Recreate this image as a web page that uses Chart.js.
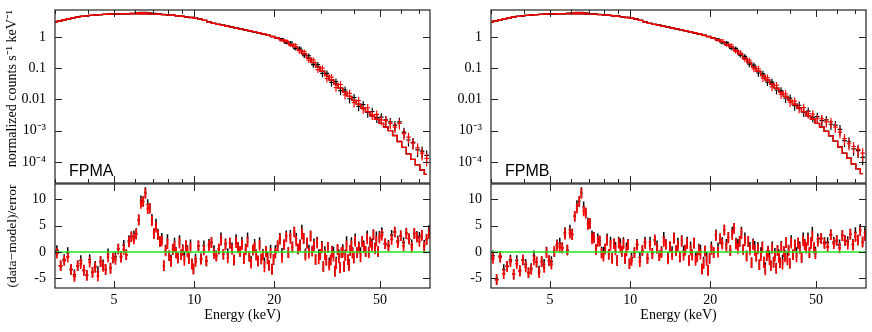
<!DOCTYPE html>
<html>
<head>
<meta charset="utf-8">
<script src="https://cdn.jsdelivr.net/npm/chart.js@4.4.1/dist/chart.umd.min.js"></script>
<style>
  body { margin: 0; background: #fff; }
  #wrap { position: relative; width: 872px; height: 332px; overflow: hidden; }
  #wrap canvas { position: absolute; }
  .tag { position: absolute; font: 16px "Liberation Sans", Arial, sans-serif; line-height: 16px; color: #000; }
</style>
</head>
<body>
<div id="wrap">
  <canvas id="specA" width="436" height="184" style="left:0;top:0"></canvas>
  <canvas id="resA" width="436" height="149" style="left:0;top:183px"></canvas>
  <canvas id="specB" width="436" height="184" style="left:436px;top:0"></canvas>
  <canvas id="resB" width="436" height="149" style="left:436px;top:183px"></canvas>
  <div class="tag" style="left:69px;top:163px">FPMA</div>
  <div class="tag" style="left:505px;top:163px">FPMB</div>
</div>
<script>
// spectrum bin centres (keV), upper panels
const energy = [
  3.00, 3.12, 3.245, 3.375, 3.51, 3.65, 3.796, 3.948, 4.106, 4.27,
  4.441, 4.618, 4.803, 4.995, 5.195, 5.403, 5.619, 5.844, 6.077, 6.321,
  6.573, 6.836, 7.11, 7.394, 7.69, 7.997, 8.317, 8.65, 8.996, 9.356,
  9.73, 10.12, 10.52, 10.95, 11.38, 11.84, 12.31, 12.8, 13.32, 13.85,
  14.4, 14.98, 15.58, 16.2, 16.85, 17.52, 18.22, 18.95, 19.71, 20.5,
  21.32, 22.17, 23.06, 23.98, 24.94, 25.94, 26.98, 28.05, 29.18, 30.34,
  31.56, 32.82, 34.13, 35.5, 36.92, 38.39, 39.93, 41.53, 43.19, 44.92,
  46.71, 48.58, 50.52, 52.54, 54.64, 56.83, 59.1, 61.47, 63.92, 66.48,
  69.14, 71.9, 74.78
]

// fractional 1-sigma error of the counts in each bin
const relErr = [
  0.01, 0.01, 0.01, 0.01, 0.01, 0.01, 0.01, 0.01, 0.01, 0.01,
  0.01, 0.01, 0.01, 0.01, 0.01, 0.01, 0.01, 0.01, 0.01, 0.01,
  0.01, 0.01, 0.01, 0.01, 0.01, 0.01, 0.01, 0.01, 0.011, 0.011,
  0.012, 0.013, 0.014, 0.015, 0.016, 0.017, 0.018, 0.019, 0.02, 0.022,
  0.024, 0.026, 0.028, 0.03, 0.033, 0.036, 0.039, 0.042, 0.046, 0.05,
  0.065, 0.08, 0.1, 0.12, 0.14, 0.16, 0.18, 0.2, 0.22, 0.24,
  0.25, 0.26, 0.27, 0.28, 0.29, 0.3, 0.3, 0.31, 0.31, 0.32,
  0.32, 0.33, 0.33, 0.34, 0.34, 0.35, 0.36, 0.37, 0.38, 0.39,
  0.4, 0.42, 0.44
]

const modelA = [
  2.95, 3.25, 3.55, 3.85, 4.1, 4.35, 4.55, 4.75, 4.92, 5.06,
  5.18, 5.28, 5.36, 5.43, 5.48, 5.52, 5.54, 5.55, 5.55, 5.53,
  5.5, 5.45, 5.38, 5.3, 5.2, 5.08, 4.94, 4.78, 4.6, 4.41,
  4.2, 3.98, 3.72, 3.4, 3.05, 2.72, 2.52, 2.36, 2.21, 2.07,
  1.94, 1.81, 1.69, 1.58, 1.47, 1.36, 1.25, 1.14, 1.04, 0.93,
  0.82, 0.7, 0.59, 0.48, 0.375, 0.285, 0.21, 0.152, 0.11, 0.08,
  0.058, 0.042, 0.031, 0.023, 0.017, 0.0125, 0.0093, 0.007, 0.0053, 0.004,
  0.003, 0.0023, 0.0017, 0.0013, 0.001, 0.0007, 0.00045, 0.00029, 0.00018, 0.00012,
  0.00008, 0.000055, 0.00004
]
const countsRedA = [
  2.94, 3.26, 3.54, 3.86, 4.09, 4.36, 4.54, 4.76, 4.91, 5.07,
  5.16, 5.29, 5.35, 5.42, 5.48, 5.52, 5.55, 5.71, 5.88, 6.07,
  6.08, 5.86, 5.63, 5.45, 5.22, 5.07, 4.95, 4.77, 4.61, 4.4,
  4.21, 3.95, 3.73, 3.39, 3.06, 2.71, 2.53, 2.36, 2.22, 2.06,
  1.95, 1.81, 1.7, 1.57, 1.47, 1.35, 1.25, 1.12, 1.01, 0.96,
  0.75, 0.78, 0.53, 0.57, 0.33, 0.34, 0.18, 0.185, 0.09, 0.1,
  0.046, 0.052, 0.024, 0.03, 0.014, 0.0156, 0.0079, 0.0091, 0.005, 0.0054,
  0.0032, 0.0033, 0.0022, 0.0021, 0.0017, 0.0013, 0.0017, 0.0008, 0.00062, 0.0004,
  0.00028, 0.00019, 0.00013
]
const countsBlackA = [
  2.95, 3.25, 3.55, 3.85, 4.1, 4.35, 4.55, 4.75, 4.92, 5.06,
  5.18, 5.28, 5.36, 5.43, 5.49, 5.53, 5.56, 5.74, 5.93, 6.12,
  6.14, 5.9, 5.67, 5.48, 5.25, 5.1, 4.94, 4.8, 4.6, 4.43,
  4.2, 3.97, 3.75, 3.41, 3.05, 2.74, 2.52, 2.39, 2.21, 2.1,
  1.95, 1.85, 1.69, 1.6, 1.46, 1.37, 1.24, 1.13, 1.02, 0.9,
  0.88, 0.63, 0.68, 0.42, 0.44, 0.25, 0.25, 0.13, 0.13, 0.068,
  0.068, 0.035, 0.037, 0.019, 0.02, 0.0105, 0.0115, 0.006, 0.0068, 0.0038,
  0.0041, 0.0026, 0.0027, 0.0022, 0.0019, 0.0015, 0.0019, 0.0009, 0.0005, 0.00042,
  0.00024, 0.00022, 0.00016
]

const modelB = [
  2.95, 3.25, 3.55, 3.85, 4.1, 4.35, 4.55, 4.75, 4.92, 5.06,
  5.18, 5.28, 5.36, 5.43, 5.48, 5.52, 5.54, 5.55, 5.55, 5.53,
  5.5, 5.45, 5.38, 5.3, 5.2, 5.08, 4.94, 4.78, 4.6, 4.41,
  4.2, 3.98, 3.72, 3.4, 3.05, 2.72, 2.52, 2.36, 2.21, 2.07,
  1.94, 1.81, 1.69, 1.58, 1.47, 1.36, 1.25, 1.14, 1.04, 0.93,
  0.82, 0.7, 0.59, 0.48, 0.375, 0.285, 0.21, 0.152, 0.11, 0.08,
  0.058, 0.042, 0.031, 0.023, 0.017, 0.0125, 0.0093, 0.007, 0.0053, 0.004,
  0.003, 0.0023, 0.0017, 0.0013, 0.00095, 0.00068, 0.00046, 0.0003, 0.00019, 0.00013,
  0.000085, 0.00006, 0.000042
]
const countsRedB = [
  2.94, 3.24, 3.56, 3.84, 4.1, 4.34, 4.56, 4.74, 4.93, 5.05,
  5.17, 5.27, 5.36, 5.42, 5.48, 5.55, 5.6, 5.74, 5.87, 6.06,
  6.08, 5.83, 5.6, 5.42, 5.24, 5.06, 4.97, 4.76, 4.64, 4.37,
  4.23, 3.92, 3.75, 3.39, 3.1, 2.72, 2.55, 2.35, 2.24, 2.07,
  1.96, 1.8, 1.71, 1.58, 1.48, 1.34, 1.24, 1.11, 1.0, 0.95,
  0.76, 0.8, 0.54, 0.56, 0.34, 0.33, 0.19, 0.18, 0.095, 0.097,
  0.048, 0.05, 0.025, 0.028, 0.0145, 0.015, 0.0082, 0.0088, 0.0052, 0.0055,
  0.0035, 0.0034, 0.0024, 0.0024, 0.0019, 0.0019, 0.0013, 0.0009, 0.00055, 0.00038,
  0.00031, 0.00025, 0.00019
]
const countsBlackB = [
  2.95, 3.25, 3.55, 3.85, 4.09, 4.35, 4.57, 4.73, 4.92, 5.07,
  5.16, 5.28, 5.35, 5.43, 5.47, 5.56, 5.62, 5.77, 5.91, 6.1,
  6.13, 5.87, 5.64, 5.45, 5.27, 5.1, 4.96, 4.8, 4.61, 4.43,
  4.2, 3.96, 3.78, 3.42, 3.07, 2.75, 2.53, 2.39, 2.22, 2.1,
  1.95, 1.83, 1.7, 1.6, 1.47, 1.36, 1.23, 1.12, 1.02, 0.91,
  0.87, 0.64, 0.67, 0.43, 0.43, 0.26, 0.24, 0.135, 0.125, 0.07,
  0.066, 0.036, 0.036, 0.02, 0.019, 0.011, 0.011, 0.0063, 0.0065, 0.004,
  0.0042, 0.0027, 0.0028, 0.0021, 0.0022, 0.0016, 0.0015, 0.0011, 0.00048, 0.00044,
  0.00026, 0.00023, 0.00014
]

// finer bins for the residual panels (keV)
const resEnergy = [
  3.05, 3.15, 3.25, 3.35, 3.45, 3.55, 3.65, 3.75, 3.85, 3.95,
  4.05, 4.15, 4.25, 4.35, 4.45, 4.55, 4.65, 4.75, 4.85, 4.95,
  5.06, 5.19, 5.31, 5.44, 5.56, 5.69, 5.81, 5.94, 6.06, 6.19,
  6.31, 6.44, 6.56, 6.69, 6.81, 6.94, 7.06, 7.19, 7.31, 7.44,
  7.56, 7.69, 7.81, 7.94, 8.06, 8.19, 8.31, 8.44, 8.56, 8.69,
  8.81, 8.94, 9.06, 9.19, 9.31, 9.44, 9.56, 9.69, 9.81, 9.94,
  10.12, 10.38, 10.62, 10.88, 11.12, 11.38, 11.62, 11.88, 12.12, 12.38,
  12.62, 12.88, 13.12, 13.38, 13.62, 13.88, 14.12, 14.38, 14.62, 14.88,
  15.12, 15.38, 15.62, 15.88, 16.12, 16.38, 16.62, 16.88, 17.12, 17.38,
  17.62, 17.88, 18.12, 18.38, 18.62, 18.88, 19.12, 19.38, 19.62, 19.88,
  20.2, 20.6, 21.0, 21.4, 21.8, 22.2, 22.6, 23.0, 23.4, 23.8,
  24.2, 24.6, 25.0, 25.4, 25.8, 26.2, 26.6, 27.0, 27.4, 27.8,
  28.2, 28.6, 29.0, 29.4, 29.8, 30.2, 30.6, 31.0, 31.4, 31.8,
  32.2, 32.6, 33.0, 33.4, 33.8, 34.2, 34.6, 35.0, 35.4, 35.8,
  36.2, 36.6, 37.0, 37.4, 37.8, 38.2, 38.6, 39.0, 39.4, 39.8,
  40.3, 40.9, 41.6, 42.2, 42.8, 43.4, 44.1, 44.7, 45.3, 45.9,
  46.6, 47.2, 47.8, 48.4, 49.1, 49.7,
  50.75, 52.25, 53.75, 55.25, 56.75, 58.25, 59.75, 61.25, 62.75, 64.25,
  65.75, 67.25, 68.75, 70.25, 71.75, 73.25, 74.75, 76.25
]

const residRedA = [
  -0.2, -2.6, -1.6, -0.9, -3.3, -4.6, -2.6, -2.2, -3.5, -4.4,
  -1.9, -3.8, -2.9, -4.5, -1.8, -2.7, -3.3, -0.9, -3.1, -1.1,
  -1.4, 0.6, -1.0, 0.5, -0.5, 1.9, 2.9, 2.5, 3.4, 6.1,
  9.2, 9.6, 11.1, 8.2, 8.3, 5.9, 3.5, 4.7, 3.3, 2.0,
  2.1, -2.6, 0.2, 1.6, -0.7, -1.8, 0.5, 1.1, -0.2, -1.1,
  1.7, -0.5, 0.3, -1.6, 1.2, 0.0, -1.2, 0.8, -2.3, -3.2,
  -1.8, 1.2, -1.4, 0.4, -1.7, 1.2, 1.8, -0.3, -0.8, 0.6,
  2.2, -0.4, 1.4, -1.1, 1.7, 0.5, -1.5, 1.8, 0.8, 0.1,
  1.4, -1.2, 0.4, 1.9, -0.8, -2.1, 0.4, 0.9, -0.6, -1.7,
  1.3, -1.3, -0.6, -2.8, 0.1, -1.3, -2.5, -0.2, -3.3, -1.4,
  -0.2, 1.2, 2.4, -1.0, 1.4, 2.8, -0.1, 2.6, 0.9, 3.8,
  2.1, 0.6, 1.2, 3.4, 2.6, -0.6, 1.7, -0.2, 3.0, 0.2,
  1.1, -1.4, 1.7, -1.3, -0.4, 0.8, -2.7, -0.5, -1.6, 0.9,
  -2.5, -1.5, 0.0, -0.8, -3.6, -2.2, 0.5, -1.1, -3.0, -0.1,
  0.0, -2.7, -0.7, 1.2, -1.4, -2.6, 0.3, 1.2, -0.2, -1.1,
  2.0, -0.1, 0.8, -0.9, 2.0, 0.9, 0.1, 2.5, -0.1, 1.9,
  1.1, 3.3, 0.6, 2.1, 0.1, 2.7,
  3.2, 1.6, 1.1, 2.4, 3.8, 1.8, 3.1, 1.2, 3.5, 2.5,
  0.9, 3.5, 2.8, 2.0, 3.2, 1.0, 2.4, 3.5
]
const residBlackA = [
  0.3, -2.6, -1.4, -0.1, -3.3, -4.3, -2.6, -1.6, -3.4, -4.4,
  -1.4, -3.8, -2.7, -3.7, -1.8, -2.4, -3.3, -0.3, -3.0, -1.1,
  -0.9, 0.6, -0.8, 1.3, -0.5, 2.2, 2.9, 3.1, 3.5, 6.1,
  9.7, 9.6, 11.3, 9.0, 8.3, 6.2, 3.5, 5.3, 3.4, 2.0,
  2.6, -2.6, 0.4, 2.4, -0.7, -1.5, 0.5, 1.7, -0.1, -1.1,
  2.2, -0.5, 0.5, -0.8, 1.2, 0.3, -1.2, 1.4, -2.2, -3.2,
  -1.3, 1.2, -1.2, 1.2, -1.7, 1.5, 1.8, 0.3, -0.7, 0.6,
  2.7, -0.4, 1.6, -0.3, 1.7, 0.8, -1.5, 2.4, 0.9, 0.1,
  1.9, -1.2, 0.6, 2.7, -0.8, -1.8, 0.4, 1.5, -0.5, -1.7,
  1.8, -1.3, -0.4, -2.0, 0.1, -1.0, -2.5, 0.4, -3.2, -1.4,
  0.3, 1.2, 2.6, -0.2, 1.4, 3.1, -0.1, 3.2, 1.0, 3.8,
  2.6, 0.6, 1.4, 4.2, 2.6, -0.3, 1.7, 0.4, 3.1, 0.2,
  1.6, -1.4, 1.9, -0.5, -0.4, 1.1, -2.7, 0.1, -1.5, 0.9,
  -2.0, -1.5, 0.2, 0.0, -3.6, -1.9, 0.5, -0.5, -2.9, -0.1,
  0.5, -2.7, -0.5, 2.0, -1.4, -2.3, 0.3, 1.8, -0.1, -1.1,
  2.5, -0.1, 1.0, -0.1, 2.0, 1.2, 0.1, 3.1, 0.0, 1.9,
  1.6, 3.3, 0.8, 2.9, 0.1, 3.0,
  3.7, 1.6, 1.3, 3.2, 3.8, 2.1, 3.1, 1.8, 3.6, 2.5,
  1.4, 3.5, 3.0, 2.8, 3.2, 1.3, 2.4, 4.1
]
const residRedB = [
  -1.2, -5.2, -1.0, -4.1, -2.7, -1.8, -4.2, -2.2, -3.6, -1.5,
  -2.8, -3.9, -3.3, -1.5, -1.9, -3.9, -1.8, -2.9, -0.1, -1.6,
  -2.3, 0.1, 1.2, 0.9, 0.8, 3.4, 0.4, 3.6, 3.3, 6.8,
  8.3, 9.6, 11.1, 7.8, 7.4, 5.2, 5.4, 2.5, 2.7, 0.5,
  2.0, 2.1, -0.2, -0.8, 0.6, 2.2, -0.4, 1.3, -1.2, 1.6,
  0.4, -1.6, 1.7, 0.8, 0.1, 1.5, -1.2, 0.2, 1.4, -2.2,
  -1.6, -0.1, 1.3, -1.8, 0.3, 1.6, -1.2, 1.3, -0.3, 2.3,
  0.7, -0.7, -0.1, 2.0, 1.5, -1.3, 1.0, -0.5, 2.6, 0.3,
  1.2, -0.9, 2.0, -0.6, 0.4, 1.6, -1.6, 0.4, -0.6, 1.7,
  -1.6, -0.8, 0.4, -0.4, -3.2, -2.2, 0.2, -1.6, -3.5, -1.2,
  0.5, -0.1, 3.1, 0.0, 2.5, 1.5, 4.2, 0.9, 2.7, 0.3,
  3.3, 4.5, 1.5, 0.7, 2.0, 3.5, 0.5, 2.1, -0.8, 2.0,
  0.4, -2.0, 1.4, 0.3, -0.8, 0.6, -2.4, -0.7, 0.9, -1.9,
  -3.4, -0.7, 0.0, -1.5, -2.6, 0.7, -1.9, -0.8, -3.1, 0.3,
  -1.0, -2.0, 0.9, -2.3, 0.1, -0.9, 1.8, -1.5, 0.3, -2.1,
  1.7, -0.5, 1.2, -0.9, 1.7, 0.7, -1.0, 2.1, 1.4, 0.8,
  2.2, -0.1, 1.6, 3.0, 0.8, -0.3,
  2.0, 2.6, 1.6, 1.0, 3.3, 1.6, 2.2, 0.8, 3.1, 2.2,
  1.5, 3.4, 1.3, 2.9, 2.3, 4.0, 1.9, 3.1
]
const residBlackB = [
  -0.7, -5.2, -0.8, -3.3, -2.7, -1.5, -4.2, -1.6, -3.5, -1.5,
  -2.3, -3.9, -3.1, -0.7, -1.9, -3.6, -1.8, -2.3, 0.0, -1.6,
  -1.8, 0.1, 1.4, 1.7, 0.8, 3.7, 0.4, 4.2, 3.4, 6.8,
  8.8, 9.6, 11.3, 8.6, 7.4, 5.5, 5.4, 3.1, 2.8, 0.5,
  2.5, 2.1, 0.0, 0.0, 0.6, 2.5, -0.4, 1.9, -1.1, 1.6,
  0.9, -1.6, 1.9, 1.6, 0.1, 1.8, -1.2, 0.8, 1.5, -2.2,
  -1.1, -0.1, 1.5, -1.0, 0.3, 1.9, -1.2, 1.9, -0.2, 2.3,
  1.2, -0.7, 0.1, 2.8, 1.5, -1.0, 1.0, 0.1, 2.7, 0.3,
  1.7, -0.9, 2.2, 0.2, 0.4, 1.9, -1.6, 1.0, -0.5, 1.7,
  -1.1, -0.8, 0.6, 0.4, -3.2, -1.9, 0.2, -1.0, -3.4, -1.2,
  1.0, -0.1, 3.3, 0.8, 2.5, 1.8, 4.2, 1.5, 2.8, 0.3,
  3.8, 4.5, 1.7, 1.5, 2.0, 3.8, 0.5, 2.7, -0.7, 2.0,
  0.9, -2.0, 1.6, 1.1, -0.8, 0.9, -2.4, -0.1, 1.0, -1.9,
  -2.9, -0.7, 0.2, -0.7, -2.6, 1.0, -1.9, -0.2, -3.0, 0.3,
  -0.5, -2.0, 1.1, -1.5, 0.1, -0.6, 1.8, -0.9, 0.4, -2.1,
  2.2, -0.5, 1.4, -0.1, 1.7, 1.0, -1.0, 2.7, 1.5, 0.8,
  2.7, -0.1, 1.8, 3.8, 0.8, 0.0,
  2.5, 2.6, 1.8, 1.8, 3.3, 1.9, 2.2, 1.4, 3.2, 2.2,
  2.0, 3.4, 1.5, 3.7, 2.3, 4.3, 1.9, 3.7
]

// axes
const energyRange = [3, 77]
const countRange = [2.1e-5, 7.3]
const residRange = [-6.8, 12.9]
const energyTicks = [5, 10, 20, 50]
const countTicks = [1e-4, 1e-3, 0.01, 0.1, 1]
const countLabels = ['10⁻⁴', '10⁻³', '0.01', '0.1', '1']
const residTicks = [-5, 0, 5, 10]

const serif = { family: '"Liberation Serif", "Times New Roman", serif', size: 14 }

// bin edges halfway (in log) between neighbouring centres
function edgesOf(grid) {
  const n = grid.length
  return {
    lo: grid.map((e, i) => i ? Math.sqrt(grid[i - 1] * e) : e * Math.sqrt(e / grid[1])),
    hi: grid.map((e, i) => i < n - 1 ? Math.sqrt(e * grid[i + 1]) : e * Math.sqrt(e / grid[n - 2]))
  }
}
const specEdges = edgesOf(energy)
const resEdges = edgesOf(resEnergy)

const labelIndex = (list, v) => list.findIndex(t => Math.abs(v - t) <= Math.abs(t) * 1e-6 + 1e-9)
const isRoundLog = v => {
  const p = Math.pow(10, Math.floor(Math.log10(v) + 1e-9))
  return Math.abs(v / p - Math.round(v / p)) < 1e-6
}
const pts = (grid, arr) => arr.map((v, i) => ({ x: grid[i], y: v }))

// crosses: bin width horizontally, +-error vertically
const errorBars = {
  id: 'errorBars',
  beforeDatasetsDraw(chart) {
    const { ctx, chartArea: a, scales: { x, y } } = chart
    ctx.save()
    ctx.beginPath()
    ctx.rect(a.left, a.top, a.width, a.height)
    ctx.clip()
    chart.data.datasets.forEach(ds => {
      if (!ds.errs) return
      ctx.strokeStyle = ds.barColor
      ctx.lineWidth = ds.barWidth
      ctx.beginPath()
      ds.data.forEach((p, i) => {
        const px = x.getPixelForValue(p.x)
        const py = y.getPixelForValue(p.y)
        ctx.moveTo(x.getPixelForValue(ds.edges.lo[i]), py)
        ctx.lineTo(x.getPixelForValue(ds.edges.hi[i]), py)
        ctx.moveTo(px, y.getPixelForValue(p.y + ds.errs[i]))
        ctx.lineTo(px, y.getPixelForValue(p.y - ds.errs[i]))
      })
      ctx.stroke()
    })
    ctx.restore()
  }
}

// box round the plot with inward ticks on all four sides
const frameTicks = {
  id: 'frameTicks',
  afterDraw(chart) {
    const { ctx, chartArea: a, scales: { x, y } } = chart
    const logY = y.type === 'logarithmic'
    ctx.save()
    ctx.strokeStyle = '#222'
    ctx.lineWidth = 1
    ctx.beginPath()
    x.ticks.forEach(t => {
      if (!isRoundLog(t.value)) return
      const len = labelIndex(energyTicks, t.value) >= 0 ? 7 : 4
      const px = Math.round(x.getPixelForValue(t.value)) + 0.5
      ctx.moveTo(px, a.bottom); ctx.lineTo(px, a.bottom - len)
      ctx.moveTo(px, a.top); ctx.lineTo(px, a.top + len)
    })
    y.ticks.forEach(t => {
      const v = t.value
      if (logY ? !isRoundLog(v) : Math.abs(v - Math.round(v)) > 1e-6) return
      const major = logY ? labelIndex(countTicks, v) >= 0 : Math.round(v) % 5 === 0
      const len = major ? 7 : 4
      const py = Math.round(y.getPixelForValue(v)) + 0.5
      ctx.moveTo(a.left, py); ctx.lineTo(a.left + len, py)
      ctx.moveTo(a.right, py); ctx.lineTo(a.right - len, py)
    })
    ctx.stroke()
    ctx.lineWidth = 1.2
    ctx.strokeRect(a.left, a.top, a.width, a.height)
    ctx.restore()
  }
}

const hidden = { grid: { display: false, drawTicks: false }, border: { display: false } }
const noPad = s => { s.paddingTop = 0; s.paddingBottom = 0; s.paddingLeft = 0; s.paddingRight = 0 }

function spectrum(id, model, red, black, withTitle) {
  return new Chart(document.getElementById(id), {
    type: 'scatter',
    data: {
      datasets: [
        { data: pts(energy, model), showLine: true, stepped: 'middle', borderColor: '#f00', borderWidth: 1.4, pointRadius: 0 },
        { data: pts(energy, model), showLine: true, stepped: 'middle', borderColor: '#000', borderWidth: 1.4, pointRadius: 0 },
        { data: pts(energy, black), errs: black.map((v, i) => v * relErr[i]), edges: specEdges, barColor: '#000', barWidth: 1.2, pointRadius: 0 },
        { data: pts(energy, red), errs: red.map((v, i) => v * relErr[i]), edges: specEdges, barColor: '#f00', barWidth: 1.2, pointRadius: 0 }
      ]
    },
    options: {
      responsive: false,
      animation: false,
      events: [],
      layout: { padding: { top: 10, right: 6, left: 0, bottom: 0 } },
      plugins: { legend: { display: false }, tooltip: { enabled: false } },
      scales: {
        x: {
          type: 'logarithmic', min: energyRange[0], max: energyRange[1], ...hidden,
          ticks: { display: false, autoSkip: false },
          afterFit: s => { noPad(s); s.height = 1 }
        },
        y: {
          type: 'logarithmic', min: countRange[0], max: countRange[1], ...hidden,
          ticks: {
            autoSkip: false, padding: 9, font: serif, color: '#000',
            callback: v => { const k = labelIndex(countTicks, v); return k < 0 ? null : countLabels[k] }
          },
          title: {
            display: withTitle, text: 'normalized counts s⁻¹ keV⁻¹', font: serif, color: '#000',
            align: 'end', padding: { top: 4, bottom: 0 }
          },
          afterFit: s => { noPad(s); s.width = 55 }
        }
      }
    },
    plugins: [errorBars, frameTicks]
  })
}

function residuals(id, red, black, withTitle) {
  return new Chart(document.getElementById(id), {
    type: 'scatter',
    data: {
      datasets: [
        { data: energyRange.map(e => ({ x: e, y: 0 })), showLine: true, borderColor: '#22e622', borderWidth: 1.5, pointRadius: 0 },
        { data: pts(resEnergy, black), errs: black.map(() => 1), edges: resEdges, barColor: '#000', barWidth: 1.5, pointRadius: 0 },
        { data: pts(resEnergy, red), errs: red.map(() => 1), edges: resEdges, barColor: '#f00', barWidth: 1.7, pointRadius: 0 }
      ]
    },
    options: {
      responsive: false,
      animation: false,
      events: [],
      layout: { padding: { top: 1, right: 6, left: 0, bottom: 0 } },
      plugins: { legend: { display: false }, tooltip: { enabled: false } },
      scales: {
        x: {
          type: 'logarithmic', min: energyRange[0], max: energyRange[1], ...hidden,
          ticks: {
            autoSkip: false, maxRotation: 0, padding: 4, font: serif, color: '#000',
            callback: v => labelIndex(energyTicks, v) < 0 ? null : String(v)
          },
          title: { display: true, text: 'Energy (keV)', font: serif, color: '#000', padding: { top: 0, bottom: 8 } },
          afterFit: s => { noPad(s); s.height = 44 }
        },
        y: {
          type: 'linear', min: residRange[0], max: residRange[1], ...hidden,
          ticks: {
            stepSize: 1, includeBounds: false, autoSkip: false, padding: 9, font: serif, color: '#000',
            callback: v => { const k = labelIndex(residTicks, v); return k < 0 ? null : String(residTicks[k]) }
          },
          title: {
            display: withTitle, text: '(data−model)/error', font: { ...serif, size: 13.5 }, color: '#000',
            padding: { top: 4.5, bottom: 0 }
          },
          afterFit: s => { noPad(s); s.width = 55 }
        }
      }
    },
    plugins: [errorBars, frameTicks]
  })
}

spectrum('specA', modelA, countsRedA, countsBlackA, true)
residuals('resA', residRedA, residBlackA, true)
spectrum('specB', modelB, countsRedB, countsBlackB, false)
residuals('resB', residRedB, residBlackB, false)
</script>
</body>
</html>
